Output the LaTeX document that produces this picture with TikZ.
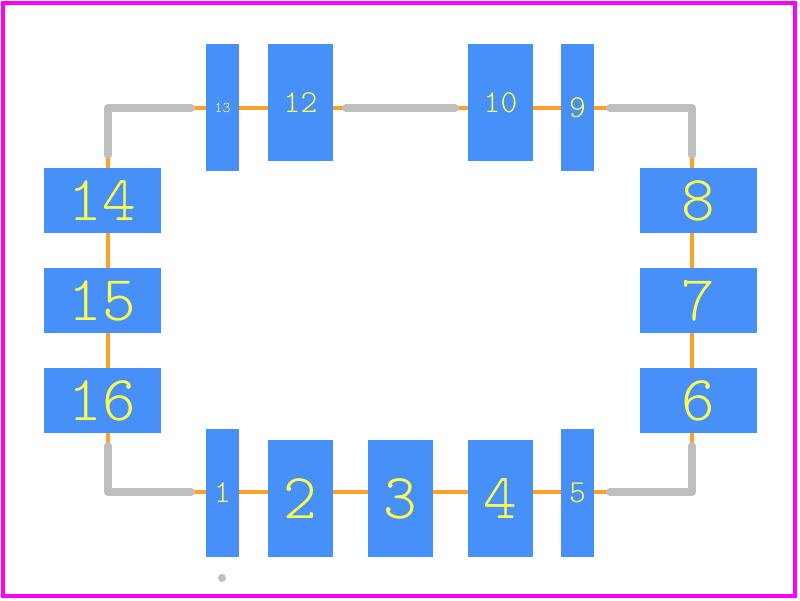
\documentclass[tikz,border=0pt]{standalone}
\usepackage{fontspec}
\setmonofont{Latin Modern Mono Light}
\usetikzlibrary{backgrounds}
\definecolor{padblue}{HTML}{478FF9}
\definecolor{trackor}{HTML}{FFA028}
\definecolor{trackgr}{HTML}{BFBFBF}
\definecolor{lblyel}{HTML}{FFFF4D}
\definecolor{framemg}{HTML}{FF00FF}
\tikzset{
  padbox/.style n args={2}{fill=padblue,draw=none,inner sep=0pt,outer sep=0pt,text=lblyel,
    font=\ttfamily\fontsize{#2}{#2}\selectfont,minimum width=#1,text centered},
  trackthin/.style={draw=trackor,line width=4pt},
  trackwide/.style={draw=trackgr,line width=8pt,line cap=round,line join=round},
  padwide/.style={padbox={117pt}{64},minimum height=65pt},
  padmid/.style={padbox={65pt}{64},minimum height=117pt},
  padmidsm/.style={padbox={65pt}{32},minimum height=117pt},
  padnarrow/.style={padbox={33pt}{32},minimum height=128pt},
  padnarrowtop/.style={padbox={33pt}{32},minimum height=127pt},
  padnarrowtiny/.style={padbox={33pt}{15},minimum height=127pt},
}
\begin{document}
\begin{tikzpicture}[x=1pt,y=-1pt]
\useasboundingbox (0,0) rectangle (800,600);
\begin{pgfonlayer}{background}
\fill[white] (0,0) rectangle (800,600);
\end{pgfonlayer}
\draw[framemg,line width=4pt] (3,3) rectangle (795,596);
% corner and end points of the tracks
\coordinate (tl) at (108,108);
\coordinate (tr) at (692,108);
\coordinate (bl) at (108,492);
\coordinate (br) at (692,492);
% pads
\node[padnarrow] (p1) at (222.5,493) {1};
\node[padmid] (p2) at (300.5,498.5) {2};
\node[padmid] (p3) at (400.5,498.5) {3};
\node[padmid] (p4) at (500.5,498.5) {4};
\node[padnarrow] (p5) at (577.5,493) {5};
\node[padwide] (p6) at (698.5,400.5) {6};
\node[padwide] (p7) at (698.5,300.5) {7};
\node[padwide] (p8) at (698.5,200.5) {8};
\node[padnarrowtop] (p9) at (577.5,107.5) {9};
\node[padmidsm] (p10) at (500.5,102.5) {10};
\node[padmidsm] (p12) at (300.5,102.5) {12};
\node[padnarrowtiny] (p13) at (222.5,107.5) {13};
\node[padwide] (p14) at (102.5,200.5) {14};
\node[padwide] (p15) at (102.5,300.5) {15};
\node[padwide] (p16) at (102.5,400.5) {16};
% thin tracks behind the pads
\begin{pgfonlayer}{background}
\draw[trackthin] (tl |- p14.center) -- (tl) -- (p13.center |- tl);
\draw[trackthin] (p13.center |- tl) -- (p12.center |- tl);
\draw[trackthin] (p12.center |- tl) -- (p10.center |- tl);
\draw[trackthin] (p10.center |- tl) -- (p9.center |- tl);
\draw[trackthin] (p9.center |- tr) -- (tr) -- (tr |- p8.center);
\draw[trackthin] (tr |- p8.center) -- (tr |- p7.center);
\draw[trackthin] (tr |- p7.center) -- (tr |- p6.center);
\draw[trackthin] (tr |- p6.center) -- (br) -- (p5.center |- br);
\draw[trackthin] (p5.center |- br) -- (p4.center |- br);
\draw[trackthin] (p4.center |- br) -- (p3.center |- br);
\draw[trackthin] (p3.center |- br) -- (p2.center |- br);
\draw[trackthin] (p2.center |- br) -- (p1.center |- br);
\draw[trackthin] (p1.center |- bl) -- (bl) -- (bl |- p16.center);
\draw[trackthin] (bl |- p16.center) -- (bl |- p15.center);
\draw[trackthin] (bl |- p15.center) -- (bl |- p14.center);
\end{pgfonlayer}
% free ends of the thick tracks
\coordinate (g13) at (191,108);
\coordinate (g14) at (108,155);
\coordinate (g12) at (346,108);
\coordinate (g10) at (455,108);
\coordinate (g9) at (610,108);
\coordinate (g8) at (692,155);
\coordinate (g6) at (692,446);
\coordinate (g5) at (610,492);
\coordinate (g1) at (191,492);
\coordinate (g16) at (108,446);
\draw[trackwide] (g14) -- (tl) -- (g13);
\draw[trackwide] (g12) -- (g10);
\draw[trackwide] (g9) -- (tr) -- (g8);
\draw[trackwide] (g6) -- (br) -- (g5);
\draw[trackwide] (g1) -- (bl) -- (g16);
\node[fill=trackgr,shape=circle,minimum size=8pt,inner sep=0pt] (dot) at (222,578) {};
\end{tikzpicture}
\end{document}
